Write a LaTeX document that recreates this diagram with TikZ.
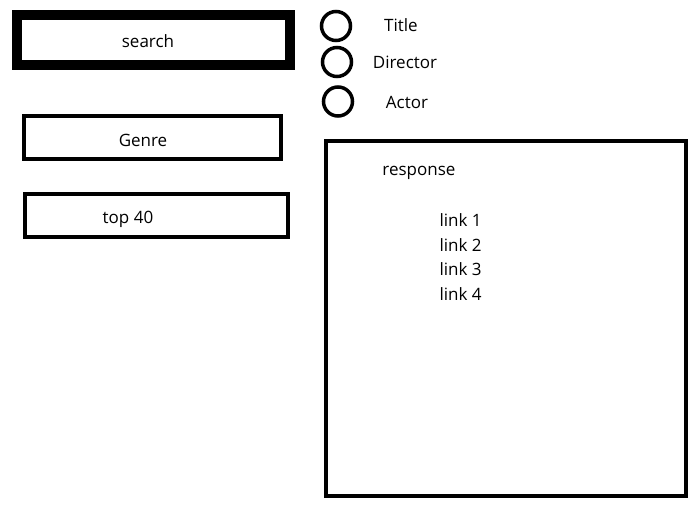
\documentclass[tikz,border=0pt]{standalone}
\usepackage{fontspec}
\setmainfont{Open Sans}
\usepackage{tikz}
\usetikzlibrary{positioning}

\begin{document}
\begin{tikzpicture}[x=1pt,y=-1pt,
    every node/.style={font=\fontsize{17}{20}\selectfont},
    box/.style={draw,line width=4pt,minimum width=#1,minimum height=43pt,inner sep=0pt},
    radio/.style={draw,circle,line width=3.5pt,minimum size=29pt,inner sep=0pt}]
  \useasboundingbox (0,0) rectangle (696,516); % 全体の大きさ
  \node[draw,line width=10pt,minimum width=273pt,minimum height=50pt] (search) at (153.5,40) {}; % 検索欄
  \node (searchtext) at (148,41) {search}; % 検索欄の文字
  \node[box=257pt] (genre) at (152.5,137.5) {}; % ジャンルのボタン
  \node (genretext) at (143,140) {Genre};
  \node[box=263pt] (top) at (156.5,215.5) {}; % 上位40のボタン
  \node (toptext) at (128,219) {top 40};
  \node[radio] (title) at (336,26) {}; % 選択肢の丸（1つ目）
  \node[radio] (director) at (337,62) {}; % 選択肢の丸（2つ目）
  \node[radio] (actor) at (338,101.5) {}; % 選択肢の丸（3つ目）
  \node (titletext) at (401,25) {Title};
  \node (directortext) at (405,62) {Director};
  \node (actortext) at (407,102) {Actor};
  \node[draw,line width=4pt,minimum width=360pt,minimum height=355pt] (response) at (506,318.5) {}; % 結果の枠
  \node (responsetext) at (419,173) {response};
  \foreach \i in {1,...,4}
    \node[anchor=west] (link\i) at (436,196+24.5*\i) {link \i}; % 結果のリンク
\end{tikzpicture}
\end{document}
